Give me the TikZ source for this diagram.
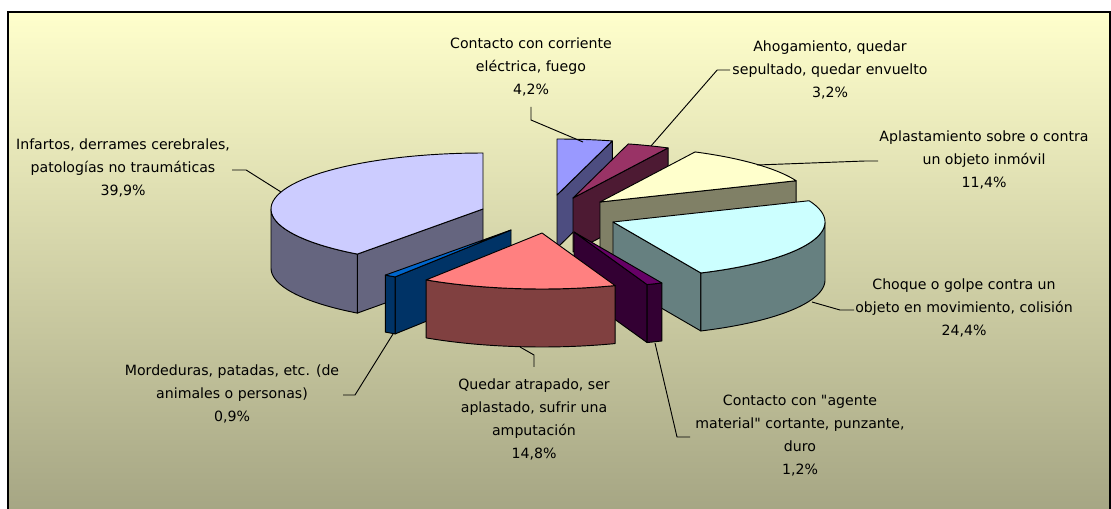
\documentclass[tikz,border=0pt]{standalone}
\usepackage{fontspec}
\setmainfont{DejaVu Sans}[Ligatures=TeXOff]
\definecolor{bgtop}{HTML}{FFFFCC}
\definecolor{bgbot}{HTML}{A6A684}
\definecolor{cTopA}{HTML}{9999FF}\definecolor{cSideA}{HTML}{4D4D80}
\definecolor{cTopB}{HTML}{993366}\definecolor{cSideB}{HTML}{4D1A33}
\definecolor{cTopC}{HTML}{FFFFCC}\definecolor{cSideC}{HTML}{808066}
\definecolor{cTopD}{HTML}{CCFFFF}\definecolor{cSideD}{HTML}{668080}
\definecolor{cTopE}{HTML}{660066}\definecolor{cSideE}{HTML}{330033}
\definecolor{cTopF}{HTML}{FF8080}\definecolor{cSideF}{HTML}{804040}
\definecolor{cTopG}{HTML}{0066CC}\definecolor{cSideG}{HTML}{003366}
\definecolor{cTopH}{HTML}{CCCCFF}\definecolor{cSideH}{HTML}{65657F}
% #1 cx, #2 cy, #3 a1, #4 a2, #5 colour
\newcommand\slicetop[5]{%
  \filldraw[fill=#5, edge] (#1,#2) -- plot[domain=#3:#4, samples=50, variable=\t] ({#1+212*sin(\t)},{#2-56*cos(\t)}) -- cycle;}
% #1 cx, #2 cy, #3 from, #4 to, #5 depth, #6 colour
\newcommand\sliceouter[6]{%
  \filldraw[fill=#6, edge] plot[domain=#3:#4, samples=50, variable=\t] ({#1+212*sin(\t)},{#2-56*cos(\t)}) -- plot[domain=#4:#3, samples=50, variable=\t] ({#1+212*sin(\t)},{#2+#5-56*cos(\t)}) -- cycle;}
% #1 cx, #2 cy, #3 angle, #4 depth, #5 colour
\newcommand\sliceradial[5]{%
  \filldraw[fill=#5, edge] (#1,#2) -- ({#1+212*sin(#3)},{#2-56*cos(#3)}) -- ({#1+212*sin(#3)},{#2+#4-56*cos(#3)}) -- (#1,{#2+#4}) -- cycle;}
\begin{document}
\begin{tikzpicture}[x=0.75pt,y=-0.75pt,
  edge/.style={draw=black, line width=0.7pt, line join=round},
  lbl/.style={align=center, font=\fontsize{10.6}{17.25}\selectfont, inner sep=0pt, text=black},
  lead/.style={draw=black, line width=0.7pt}]
\useasboundingbox (0,0) rectangle (1111,509);
\fill[white] (0,0) rectangle (1111,509);
\shade[top color=bgtop, bottom color=bgbot] (8,12) rectangle (1110,509);
\draw[line width=0.9pt] (8,512) -- (8,12) -- (1110,12) -- (1110,512);

% Contacto con corriente electrica (0 - 15.12)
\sliceradial{557}{195}{15.12}{53}{cSideA}
\slicetop{557}{195}{0}{15.12}{cTopA}
% Ahogamiento (15.12 - 26.64)
\sliceradial{573}{198}{26.64}{54}{cSideB}
\slicetop{573}{198}{15.12}{26.64}{cTopB}
% Aplastamiento (26.64 - 67.68)
\sliceradial{600}{202}{67.68}{55}{cSideC}
\slicetop{600}{202}{26.64}{67.68}{cTopC}
% Choque (67.68 - 155.52)
\sliceradial{613}{222}{155.52}{58}{cSideD}
\sliceouter{613}{222}{90}{155.52}{58}{cSideD}
\slicetop{613}{222}{67.68}{155.52}{cTopD}
% Contacto agente material (155.52 - 159.84)
\sliceradial{574}{232}{159.84}{58}{cSideE}
\sliceouter{574}{232}{155.52}{159.84}{58}{cSideE}
\slicetop{574}{232}{155.52}{159.84}{cTopE}
% Infartos (216.36 - 360)
\sliceradial{483}{209}{216.36}{59}{cSideH}
\sliceouter{483}{209}{216.36}{270}{59}{cSideH}
\slicetop{483}{209}{216.36}{360}{cTopH}
% Mordeduras (213.12 - 216.36)
\sliceradial{511}{230}{213.12}{57}{cSideG}
\sliceouter{511}{230}{213.12}{216.36}{57}{cSideG}
\slicetop{511}{230}{213.12}{216.36}{cTopG}
% Quedar atrapado (159.84 - 213.12)
\sliceouter{542}{233}{159.84}{213.12}{58}{cSideF}
\slicetop{542}{233}{159.84}{213.12}{cTopF}

% labels
\node[lbl] (lInf) at (123,168) {Infartos, derrames cerebrales,\\patologías no traumáticas\\39,9\%};
\node[lbl] (lCor) at (531,66.5) {Contacto con corriente\\eléctrica, fuego\\4,2\%};
\node[lbl] (lAho) at (830,70) {Ahogamiento, quedar\\sepultado, quedar envuelto\\3,2\%};
\node[lbl] (lApl) at (984,160) {Aplastamiento sobre o contra\\un objeto inmóvil\\11,4\%};
\node[lbl] (lCho) at (964,308) {Choque o golpe contra un\\objeto en movimiento, colisión\\24,4\%};
\node[lbl] (lAge) at (800,436) {Contacto con "agente\\material" cortante, punzante,\\duro\\1,2\%};
\node[lbl] (lQue) at (534,419) {Quedar atrapado, ser\\aplastado, sufrir una\\amputación\\14,8\%};
\node[lbl] (lMor) at (232,394) {Mordeduras, patadas, etc. (de\\animales o personas)\\0,9\%};

% leader end points on the slices
\coordinate (pInf) at (281,192);
\coordinate (pCor) at (583,142);
\coordinate (pAho) at (651,146);
\coordinate (pApl) at (757,165);
\coordinate (pCho) at (812,302);
\coordinate (pAge) at (655,343);
\coordinate (pQue) at (520,347);
\coordinate (pMor) at (393,334);

\draw[lead] (lInf.east |- 0,170) ++(2,0) -- ++(14,0) -- (pInf);
\draw[lead] (531,107) -- (531,120) -- (pCor);
\draw[lead] (lAho.west |- 0,70) ++(-2,0) -- ++(-13,0) -- (pAho);
\draw[lead] (878,161) -- (865,161) -- (pApl);
\draw[lead] (lCho.west |- 0,310) ++(-1,0) -- ++(-14,0) -- (pCho);
\draw[lead] (690,437) -- (677,437) -- (pAge);
\draw[lead] (534,367) -- (534,355) -- (pQue);
\draw[lead] (343,395) -- (355,395) -- (pMor);
\end{tikzpicture}
\end{document}
